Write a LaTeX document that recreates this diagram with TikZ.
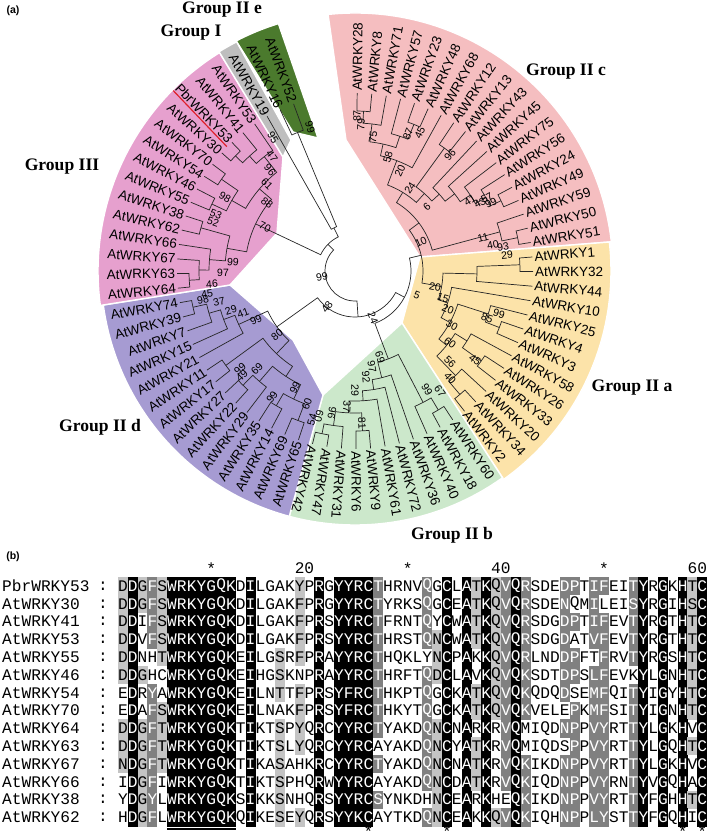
\documentclass[tikz,border=0pt]{standalone}
\usepackage{fontspec}
\setmainfont{Liberation Serif}
\setsansfont{Liberation Sans}
\setmonofont{Liberation Mono}
\usetikzlibrary{calc}
\definecolor{cIIc}{HTML}{F5BEC0}
\definecolor{cIIa}{HTML}{FCE3A9}
\definecolor{cIIb}{HTML}{CCE8CB}
\definecolor{cIId}{HTML}{A69BD2}
\definecolor{cIII}{HTML}{E6A0CE}
\definecolor{cI}{HTML}{BEBEBE}
\definecolor{cIIe}{HTML}{4B7A2D}
\definecolor{cMark}{HTML}{E0202A}
\definecolor{shDark}{HTML}{808080}
\definecolor{shLight}{HTML}{C4C4C4}
\tikzset{
    sector/.style={draw=white, line width=1.2pt},
    branch/.style={line width=0.6pt, draw=black!85},
    leaf/.style={font=\sffamily\fontsize{11.5}{12}\selectfont, inner sep=0.3pt},
    boot/.style={font=\sffamily\fontsize{9}{9}\selectfont, inner sep=0pt},
    grp/.style={font=\rmfamily\bfseries\fontsize{15}{16}\selectfont, inner sep=0pt},
    panel/.style={font=\sffamily\bfseries\fontsize{9}{9}\selectfont, inner sep=0pt},
    res/.style={font=\ttfamily\fontsize{13.8}{14}\selectfont, inner sep=0pt},
    seqname/.style={font=\ttfamily\fontsize{13.8}{14}\selectfont, inner sep=0pt, anchor=west},
    ruler/.style={font=\ttfamily\fontsize{13.8}{14}\selectfont, inner sep=0pt},
}

% alignment rows (PbrWRKY53 first)
\ExplSyntaxOn
\int_new:N \l_aln_count_int
\tl_new:N \l_aln_ref_tl
\tl_new:N \l_aln_cur_tl
\NewDocumentCommand \alnrow { m m } { \tl_const:cn { c_aln_row_#1_tl } {#2} }
\cs_new:Npn \aln_class:n #1
  { \str_case:nnF {#1} { {N}{D} {Q}{E} {T}{S} {R}{K} {Y}{F} {W}{F} {I}{L} {V}{L} {M}{L} } {#1} }
\cs_new_protected:Npn \aln_get_class:Nnn #1#2#3
  {
    \tl_set:Nx #1 { \tl_item:cn { c_aln_row_#2_tl } {#3} }
    \tl_set:Nx #1 { \exp_args:NV \aln_class:n #1 }
  }
\NewDocumentCommand \alnshade { m m }
  {
    \aln_get_class:Nnn \l_aln_ref_tl {#1} {#2}
    \int_zero:N \l_aln_count_int
    \int_step_inline:nn { 14 }
      {
        \aln_get_class:Nnn \l_aln_cur_tl {##1} {#2}
        \tl_if_eq:NNT \l_aln_ref_tl \l_aln_cur_tl { \int_incr:N \l_aln_count_int }
      }
    \int_compare:nNnTF { \l_aln_count_int } = { 14 }
      { \def\alnfill{black} \def\alntext{white} }
      {
        \int_compare:nNnTF { \l_aln_count_int } > { 10 }
          { \def\alnfill{shDark} \def\alntext{white} }
          {
            \int_compare:nNnTF { \l_aln_count_int } > { 8 }
              { \def\alnfill{shLight} \def\alntext{black} }
              { \def\alnfill{none} \def\alntext{black} }
          }
      }
  }
\NewExpandableDocumentCommand \alnchar { m m } { \tl_item:cn { c_aln_row_#1_tl } {#2} }
\ExplSyntaxOff
\alnrow{1}{DDGFSWRKYGQKDILGAKYPRGYYRCTHRNVQGCLATKQVQRSDEDPTIFEITYRGKHTC}
\alnrow{2}{DDGFSWRKYGQKDILGAKFPRGYYRCTYRKSQGCEATKQVQRSDENQMILEISYRGIHSC}
\alnrow{3}{DDIFSWRKYGQKDILGAKFPRSYYRCTFRNTQYCWATKQVQRSDGDPTIFEVTYRGTHTC}
\alnrow{4}{DDVFSWRKYGQKDILGAKFPRSYYRCTHRSTQNCWATKQVQRSDGDATVFEVTYRGTHTC}
\alnrow{5}{DDNHTWRKYGQKEILGSRFPRAYYRCTHQKLYNCPAKKQVQRLNDDPFTFRVTYRGSHTC}
\alnrow{6}{DDGHCWRKYGQKEIHGSKNPRAYYRCTHRFTQDCLAVKQVQKSDTDPSLFEVKYLGNHTC}
\alnrow{7}{EDRYAWRKYGQKEILNTTFPRSYFRCTHKPTQGCKATKQVQKQDQDSEMFQITYIGYHTC}
\alnrow{8}{EDAFSWRKYGQKEILNAKFPRSYFRCTHKYTQGCKATKQVQKVELEPKMFSITYIGNHTC}
\alnrow{9}{DDGFTWRKYGQKTIKTSPYQRCYYRCTYAKDQNCNARKRVQMIQDNPPVYRTTYLGKHVC}
\alnrow{10}{DDGFTWRKYGQKTIKTSLYQRCYYRCAYAKDQNCYATKRVQMIQDSPPVYRTTYLGQHTC}
\alnrow{11}{NDGFTWRKYGQKTIKASAHKRCYYRCTYAKDQNCNATKRVQKIKDNPPVYRTTYLGKHVC}
\alnrow{12}{IDGFIWRKYGQKTIKTSPHQRWYYRCAYAKDQNCDATKRVQKIQDNPPVYRNTYVGQHAC}
\alnrow{13}{YDGYLWRKYGQKSIKKSNHQRSYYRCSYNKDHNCEARKHEQKIKDNPPVYRTTYFGHHTC}
\alnrow{14}{HDGFLWRKYGQKQIKESEYQRSYYKCAYTKDQNCEAKKQVQKIQHNPPLYSTTYFGQHIC}

\def\leaflist{AtWRKY28,AtWRKY8,AtWRKY71,AtWRKY57,AtWRKY23,AtWRKY48,AtWRKY68,AtWRKY12,AtWRKY13,AtWRKY43,AtWRKY45,AtWRKY75,AtWRKY56,AtWRKY24,AtWRKY49,AtWRKY59,AtWRKY50,AtWRKY51,AtWRKY1,AtWRKY32,AtWRKY44,AtWRKY10,AtWRKY25,AtWRKY4,AtWRKY3,AtWRKY58,AtWRKY26,AtWRKY33,AtWRKY20,AtWRKY34,AtWRKY2,AtWRKY60,AtWRKY18,AtWRKY40,AtWRKY36,AtWRKY72,AtWRKY61,AtWRKY9,AtWRKY6,AtWRKY31,AtWRKY47,AtWRKY42,AtWRKY65,AtWRKY69,AtWRKY14,AtWRKY35,AtWRKY29,AtWRKY22,AtWRKY27,AtWRKY17,AtWRKY11,AtWRKY21,AtWRKY15,AtWRKY7,AtWRKY39,AtWRKY74,AtWRKY64,AtWRKY63,AtWRKY67,AtWRKY66,AtWRKY62,AtWRKY38,AtWRKY55,AtWRKY46,AtWRKY54,AtWRKY70,AtWRKY30,PbrWRKY53,AtWRKY41,AtWRKY53,AtWRKY19,AtWRKY16,AtWRKY52}

\begin{document}
\begin{tikzpicture}[x=0.03cm, y=0.03cm, declare function={th(\i)=89.3-4.71*\i;}]
\useasboundingbox (0,0) rectangle (709,-835);

\node[panel] (pa) at (13,-11) {(a)};
\node[panel] (pb) at (13,-557) {(b)};

% tree, centred on the root
\begin{scope}[shift={(355,-271)}]
\fill[cIIc, sector] (96:258) arc[start angle=96, end angle=6.5, radius=258] -- (65,14) -- (-9,131) -- cycle;
\fill[cIIa, sector] (6.5:256) arc[start angle=6.5, end angle=-54.5, radius=256] -- (47,-52) -- (65,14) -- cycle;
\fill[cIIb, sector] (-54.5:254) arc[start angle=-54.5, end angle=-105, radius=254] -- (-32,-124) -- (47,-52) -- cycle;
\fill[cIId, sector] (-105:254) arc[start angle=-105, end angle=-172.3, radius=254] -- (-125,-14) -- (-62,-69) -- (-32,-124) -- cycle;
\fill[cIII, sector] (-172.3:257) arc[start angle=-172.3, end angle=-238.2, radius=257] -- (-72,114) -- (-78,38) -- (-125,-14) -- cycle;
\fill[cI, sector] (121.8:258) arc[start angle=121.8, end angle=117.3, radius=258] -- (-64,131) -- (-72,114) -- cycle;
\fill[cIIe, sector] (117.3:259) arc[start angle=117.3, end angle=107.2, radius=259] -- (-37,133) -- (-62,139) -- cycle;

% clades: radius / first child / second child / radius of first / radius of second
\foreach \rn/\ia/\ib/\ra/\rb in {
    160/0/1/178/178, 148/0.5/2/160/178, 158/4/5/178/178, 142/3/4.5/178/158,
    130/1.25/3.75/148/142, 118/2.5/6/130/178, 152/7/8/178/178, 162/13/14/178/178,
    150/12/13.5/178/162, 138/11/12.75/178/150, 126/10/11.875/178/138,
    114/9/10.94/178/126, 104/7.5/9.97/152/114, 92/4.25/8.73/118/104,
    166/16/17/178/178, 150/15/16.5/178/166, 80/6.49/15.75/92/150,
    165/18/19/178/178, 122/18.5/20/165/178, 155/23/24/178/178, 140/22/23.5/178/155,
    155/26/27/178/178, 132/25/26.5/178/155, 162/29/30/178/178, 145/28/29.5/178/162,
    118/25.75/28.75/132/145, 108/22.75/27.25/140/118, 98/21/25/178/108,
    88/19.25/23/122/98, 68/11.12/21.125/80/88,
    162/31/32/178/178, 148/31.5/33/162/178, 166/40/41/178/178, 156/39/40.5/178/166,
    160/37/38/178/178, 142/37.5/39.75/160/156, 130/36/38.625/178/142,
    120/35/37.31/178/130, 110/34/36.16/178/120, 94/32.25/35.08/148/110,
    56/16.12/33.66/68/94,
    160/42/43/178/178, 156/44/45/178/178, 142/42.5/44.5/160/156, 160/47/48/178/178,
    146/46/47.5/178/160, 126/43.5/46.75/142/146, 160/49/50/178/178,
    114/45.125/49.5/126/160, 166/54/55/178/178, 152/53/54.5/178/166,
    140/52/53.75/178/152, 128/51/52.875/178/140, 96/47.31/51.94/114/128,
    46/24.89/49.63/56/96,
    166/56/57/178/178, 156/56.5/58/166/178, 146/57.25/59/156/178, 160/60/61/178/178,
    130/58.125/60.5/146/160, 158/62/63/178/178, 162/64/65/178/178,
    142/62.5/64.5/158/162, 166/66/67/178/178, 156/66.5/68/166/178,
    146/67.25/69/156/178, 126/63.5/68.125/142/146, 110/59.31/65.81/130/126,
    150/71/72/178/178, 48/70/71.5/178/150, 38/62.56/70.75/110/48,
    30/37.26/66.66/46/38}{
  \pgfmathsetmacro\angA{th(\ia)}
  \pgfmathsetmacro\angB{th(\ib)}
  \draw[branch] (\angA:\ra) -- (\angA:\rn) arc[start angle=\angA, end angle=\angB, radius=\rn] -- (\angB:\rb);
}

% leaf labels
\foreach \nm [count=\i from 0] in \leaflist {
  \pgfmathsetmacro\ang{th(\i)}
  \ifnum\i<42
    \node[leaf, anchor=west, rotate=\ang] (lf\i) at (\ang:179.5) {\nm};
  \else
    \node[leaf, anchor=east, rotate=\ang+180] (lf\i) at (\ang:179.5) {\nm};
  \fi
}
\draw[cMark, line width=1pt] ([shift={(-94:1.5)}]lf67.south west) -- ([shift={(-94:1.5)}]lf67.south east);
\end{scope}

% bootstrap values
\foreach \bx/\by/\bt [count=\k] in {
    310/127/99, 273/138/95, 272/156/47, 270/170/96, 267/184/61, 267/203/88,
    225/197/98, 265/227/70, 216/214/53, 213/222/52, 233/262/99, 223/273/97,
    212/284/46, 207/294/45, 203/300/98, 219/302/37, 231/310/29, 243/313/41,
    256/320/99, 277/335/80, 240/369/99, 242/376/49, 257/369/69, 272/397/99,
    295/388/99, 307/404/60, 312/420/54, 319/416/60, 332/413/96, 347/407/37,
    355/390/29, 366/377/92, 372/367/97, 380/357/69, 362/423/81, 427/390/99,
    440/391/67, 322/277/99, 327/307/48, 373/318/24,
    417/295/5, 435/287/20, 443/298/15, 448/309/20, 452/325/30, 450/343/60,
    450/362/56, 450/378/40, 487/318/85, 499/314/99, 475/360/45,
    357/116/87, 361/124/79, 373/137/75, 388/157/58, 400/171/20, 410/188/24,
    427/207/6, 421/242/10, 408/134/87, 420/133/45, 450/155/96, 470/200/41,
    480/203/43, 487/198/57, 491/203/99, 483/238/11, 493/245/40, 503/247/93,
    507/255/29}{
  \pgfmathsetmacro\bsang{atan2(271-\by,\bx-355)}
  \pgfmathsetmacro\bsrot{(\bsang>100 || \bsang<-106) ? \bsang+180 : \bsang}
  \node[boot, rotate=\bsrot] (bs\k) at (\bx,-\by) {\bt};
}

% group names
\node[grp] (gIIe) at (222,-10) {Group II e};
\node[grp] (gI) at (191,-33) {Group I};
\node[grp] (gIII) at (62,-167) {Group III};
\node[grp] (gIIc) at (566,-72) {Group II c};
\node[grp] (gIIa) at (632,-388) {Group II a};
\node[grp] (gIIb) at (452,-535) {Group II b};
\node[grp] (gIId) at (100,-427) {Group II d};

% alignment
\foreach \ci/\t in {10/*, 30/*, 50/*}
  \node[ruler] (st\ci) at ({118+(\ci-0.5)*9.82},-569) {\t};
\foreach \ci in {20, 40, 60}
  \node[ruler, anchor=east] (nb\ci) at ({118+\ci*9.82},-568) {\ci};

\foreach \nm [count=\ri] in {PbrWRKY53,AtWRKY30,AtWRKY41,AtWRKY53,AtWRKY55,AtWRKY46,AtWRKY54,AtWRKY70,AtWRKY64,AtWRKY63,AtWRKY67,AtWRKY66,AtWRKY38,AtWRKY62}{
  \pgfmathsetmacro\ry{-586-(\ri-1)*17.8}
  \node[seqname] (nm\ri) at (2,\ry) {\nm};
  \node[seqname, anchor=center] (cl\ri) at (103,\ry) {:};
  \foreach \ci in {1,...,60}{
    \alnshade{\ri}{\ci}
    \pgfmathsetmacro\rx{118+(\ci-0.5)*9.82}
    \path[fill=\alnfill] ({\rx-5},{\ry-9.1}) rectangle ({\rx+5},{\ry+9.1});
    \node[res, text=\alntext] (r\ri-\ci) at (\rx,\ry) {\alnchar{\ri}{\ci}};
  }
}
\coordinate (ulA) at (167,-829);
\coordinate (ulB) at (236,-829);
\draw[line width=1.2pt] (ulA) -- (ulB);
\foreach \ci in {26, 34, 58, 60}
  \node[ruler] (bt\ci) at ({118+(\ci-0.5)*9.82},-832) {*};

\end{tikzpicture}
\end{document}
